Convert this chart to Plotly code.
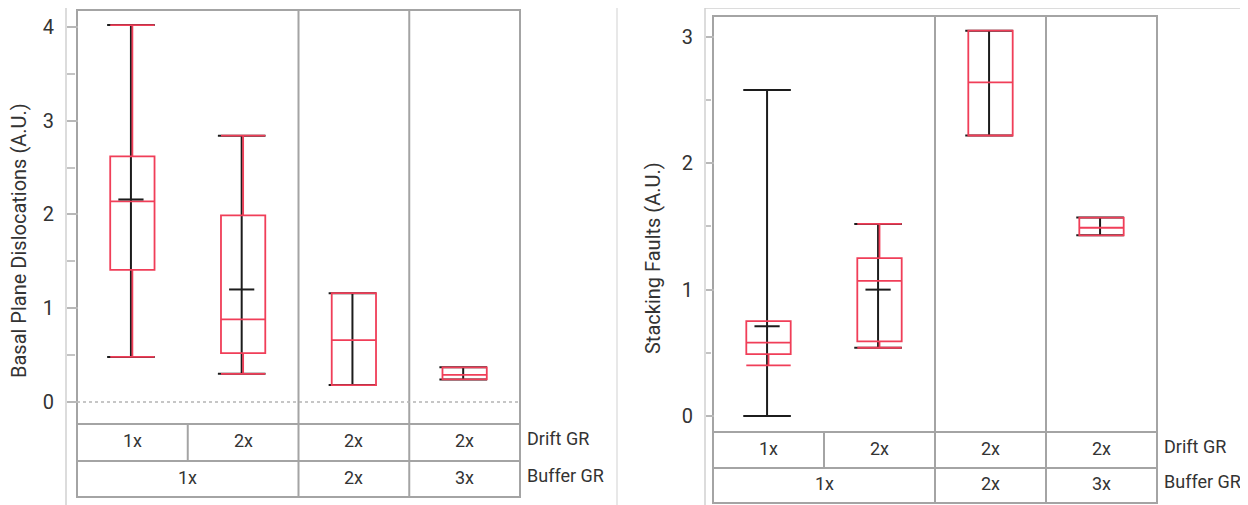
import plotly.graph_objects as go

W, H = 1248, 505
OFF = 8  # default page margin of the html body

# ---------------- data ----------------
positions = [0, 1, 2, 3]
drift_gr = ["1x", "2x", "2x", "2x"]
buffer_gr = ["1x", "1x", "2x", "3x"]
bpd_ticks = [0, 1, 2, 3, 4]
sf_ticks = [0, 1, 2, 3]

# Basal Plane Dislocations (A.U.)
bpd_q1 = [1.41, 0.52, 0.18, 0.24]
bpd_med = [2.14, 0.88, 0.66, 0.29]
bpd_q3 = [2.62, 1.99, 1.16, 0.37]
bpd_wlo = [0.48, 0.30, 0.18, 0.24]
bpd_whi = [4.02, 2.84, 1.16, 0.37]
bpd_min = [0.48, 0.30, 0.18, 0.24]
bpd_max = [4.02, 2.84, 1.16, 0.37]
bpd_mean = [2.16, 1.20, None, None]

# Stacking Faults (A.U.)
sf_q1 = [0.49, 0.59, 2.22, 1.43]
sf_med = [0.58, 1.07, 2.64, 1.49]
sf_q3 = [0.75, 1.25, 3.05, 1.57]
sf_wlo = [0.40, 0.54, 2.22, 1.43]
sf_whi = [0.75, 1.52, 3.05, 1.57]
sf_min = [0.00, 0.54, 2.22, 1.43]
sf_max = [2.58, 1.52, 3.05, 1.57]
sf_mean = [0.71, 1.00, None, None]

# ---------------- style / geometry ----------------
RED = "#f03e58"
BLK = "#1c1c1c"
FRAME = "#a4a4a4"
LIGHT = "#d0d0d0"
TXT = "#333333"
FONT = "Roboto"
RANGE_SHIFT = -0.013  # range bar drawn just left of the box centre, as in the source

FW, FH = W - OFF, H - OFF

def px(x):
    return min(max((x - OFF) / FW, 0), 1)

def py(y):
    return min(max(1 - (y - OFF) / FH, 0), 1)

panels = [
    dict(name="1", ov="3", left=77, right=520, top=10, bottom=424, r1=461, r2=497,
         yrange=[-0.235, 4.181], axis_x=66, axis_top=0, title="Basal Plane Dislocations (A.U.)",
         title_x=19, title_y=241, ticks=bpd_ticks, zero=True,
         q1=bpd_q1, med=bpd_med, q3=bpd_q3, wlo=bpd_wlo, whi=bpd_whi,
         mn=bpd_min, mx=bpd_max, mean=bpd_mean),
    dict(name="2", ov="4", left=713, right=1157, top=16, bottom=432, r1=468, r2=503,
         yrange=[-0.127, 3.166], axis_x=705, axis_top=8, title="Stacking Faults (A.U.)",
         title_x=653, title_y=258, ticks=sf_ticks, zero=False,
         q1=sf_q1, med=sf_med, q3=sf_q3, wlo=sf_wlo, whi=sf_whi,
         mn=sf_min, mx=sf_max, mean=sf_mean),
]

def ax_names(n):
    return ("x" if n == "1" else "x" + n), ("y" if n == "1" else "y" + n)

fig = go.Figure()
shapes = []
annotations = []

for p in panels:
    xa, ya = ax_names(p["name"])
    xo, yo = ax_names(p["ov"])
    rx = [xi + RANGE_SHIFT for xi in positions]
    # black range lines (base layer)
    lx, ly = [], []
    for xi, lo, hi in zip(rx, p["mn"], p["mx"]):
        lx += [xi, xi, None]
        ly += [lo, hi, None]
    fig.add_trace(go.Scatter(x=lx, y=ly, mode="lines", line=dict(color=BLK, width=2),
                             xaxis=xa, yaxis=ya, showlegend=False, hoverinfo="skip"))
    # black range caps
    fig.add_trace(go.Scatter(x=rx + rx, y=p["mn"] + p["mx"], mode="markers",
                             marker=dict(symbol="line-ew", size=34, line=dict(color=BLK, width=2)),
                             xaxis=xa, yaxis=ya, showlegend=False, hoverinfo="skip"))
    # red box plots (overlay layer, drawn above the black range bars)
    fig.add_trace(go.Box(
        x=positions, q1=p["q1"], median=p["med"], q3=p["q3"],
        lowerfence=p["wlo"], upperfence=p["whi"],
        width=0.4, whiskerwidth=1, boxpoints=False,
        line=dict(color=RED, width=1.8), fillcolor="rgba(0,0,0,0)",
        xaxis=xo, yaxis=yo, showlegend=False, hoverinfo="skip",
    ))
    # black mean ticks
    mx_ = [xi for xi, m in zip(rx, p["mean"]) if m is not None]
    my_ = [m for m in p["mean"] if m is not None]
    fig.add_trace(go.Scatter(x=mx_, y=my_, mode="markers",
                             marker=dict(symbol="line-ew", size=18, line=dict(color=BLK, width=2)),
                             xaxis=xo, yaxis=yo, showlegend=False, hoverinfo="skip"))

layout = dict(
    width=FW, height=FH, margin=dict(l=0, r=0, t=0, b=0),
    paper_bgcolor="white", plot_bgcolor="rgba(0,0,0,0)",
    font=dict(family=FONT, color=TXT, size=18),
    showlegend=False,
)

for p in panels:
    n, o = p["name"], p["ov"]
    xa, ya = ax_names(n)
    xo, yo = ax_names(o)
    xkey = "xaxis" if n == "1" else "xaxis" + n
    ykey = "yaxis" if n == "1" else "yaxis" + n
    layout[xkey] = dict(domain=[px(p["left"]), px(p["right"])], range=[-0.5, 3.5],
                        visible=False, anchor=ya, fixedrange=True)
    layout[ykey] = dict(domain=[py(p["bottom"]), py(p["top"])], range=p["yrange"],
                        anchor="free", position=px(p["axis_x"]),
                        showgrid=False, zeroline=False, showline=False,
                        tickvals=p["ticks"], ticktext=[str(t) for t in p["ticks"]],
                        ticks="inside", ticklen=p["left"] - p["axis_x"], tickwidth=1.5,
                        tickcolor="#b8b8b8", ticklabelstandoff=12,
                        tickfont=dict(family=FONT, size=20, color=TXT),
                        minor=dict(ticks="inside", ticklen=p["left"] - p["axis_x"] - 3,
                                   tickwidth=1.5, tickcolor="#c4c4c4", dtick=0.5, tick0=0,
                                   showgrid=False),
                        fixedrange=True)
    layout["xaxis" + o] = dict(overlaying=xa, range=[-0.5, 3.5], visible=False,
                               anchor=yo, fixedrange=True)
    layout["yaxis" + o] = dict(overlaying=ya, range=p["yrange"], visible=False,
                               anchor=xo, fixedrange=True)

    L, R, T, B, R1, R2 = p["left"], p["right"], p["top"], p["bottom"], p["r1"], p["r2"]

    # axis line (extends full height)
    shapes.append(dict(type="line", xref="paper", yref="paper",
                       x0=px(p["axis_x"]), x1=px(p["axis_x"]), y0=py(p["axis_top"]), y1=0,
                       line=dict(color=LIGHT, width=1.5), layer="below"))
    # zero reference line
    if p["zero"]:
        shapes.append(dict(type="line", xref=xa, yref=ya, x0=-0.5, x1=3.5, y0=0, y1=0,
                           line=dict(color="#b4b4b4", width=1.5, dash="dot"), layer="below"))
    # outer frame (plot + table)
    shapes.append(dict(type="rect", xref="paper", yref="paper",
                       x0=px(L), x1=px(R), y0=py(R2), y1=py(T),
                       line=dict(color=FRAME, width=2), layer="below"))
    for yy in (B, R1):
        shapes.append(dict(type="line", xref="paper", yref="paper",
                           x0=px(L), x1=px(R), y0=py(yy), y1=py(yy),
                           line=dict(color=FRAME, width=2), layer="below"))
    # dividers
    for i in range(len(positions) - 1):
        xb = (positions[i] + positions[i + 1]) / 2
        if buffer_gr[i] != buffer_gr[i + 1]:
            y_top, y_bot = py(T), py(R2)
        else:
            y_top, y_bot = py(B), py(R1)
        shapes.append(dict(type="line", xref=xa, yref="paper", x0=xb, x1=xb,
                           y0=y_bot, y1=y_top, line=dict(color=FRAME, width=2), layer="below"))
    # table labels: drift row
    for xi, lab in zip(positions, drift_gr):
        annotations.append(dict(xref=xa, yref="paper", x=xi, y=py((B + R1) / 2 - 2),
                                text=lab, showarrow=False, xanchor="center", yanchor="middle",
                                font=dict(family=FONT, size=18, color=TXT)))
    # table labels: buffer row (grouped spans)
    start = 0
    for i in range(1, len(positions) + 1):
        if i == len(positions) or buffer_gr[i] != buffer_gr[start]:
            xc = (positions[start] + positions[i - 1]) / 2
            annotations.append(dict(xref=xa, yref="paper", x=xc, y=py((R1 + R2) / 2 - 2),
                                    text=buffer_gr[start], showarrow=False,
                                    xanchor="center", yanchor="middle",
                                    font=dict(family=FONT, size=18, color=TXT)))
            start = i
    annotations.append(dict(xref="paper", yref="paper", x=px(R + 5), y=py((B + R1) / 2 - 4),
                            text="Drift GR", showarrow=False, xanchor="left", yanchor="middle",
                            font=dict(family=FONT, size=18, color=TXT)))
    annotations.append(dict(xref="paper", yref="paper", x=px(R + 5), y=py((R1 + R2) / 2 - 4),
                            text="Buffer GR", showarrow=False, xanchor="left", yanchor="middle",
                            font=dict(family=FONT, size=18, color=TXT)))
    # axis title
    annotations.append(dict(xref="paper", yref="paper", x=px(p["title_x"]),
                            y=py(p["title_y"]), text=p["title"], textangle=-90,
                            showarrow=False, xanchor="center", yanchor="middle",
                            font=dict(family=FONT, size=20, color=TXT)))

# separator between the two panels and right panel outer border
shapes.append(dict(type="line", xref="paper", yref="paper", x0=px(617), x1=px(617),
                   y0=py(3), y1=0, line=dict(color="#e0e0e0", width=1.5), layer="below"))
shapes.append(dict(type="line", xref="paper", yref="paper", x0=px(705), x1=1,
                   y0=py(8), y1=py(8), line=dict(color=LIGHT, width=1.5), layer="below"))

layout["shapes"] = shapes
layout["annotations"] = annotations
fig.update_layout(**layout)
fig.write_html("out.html")
